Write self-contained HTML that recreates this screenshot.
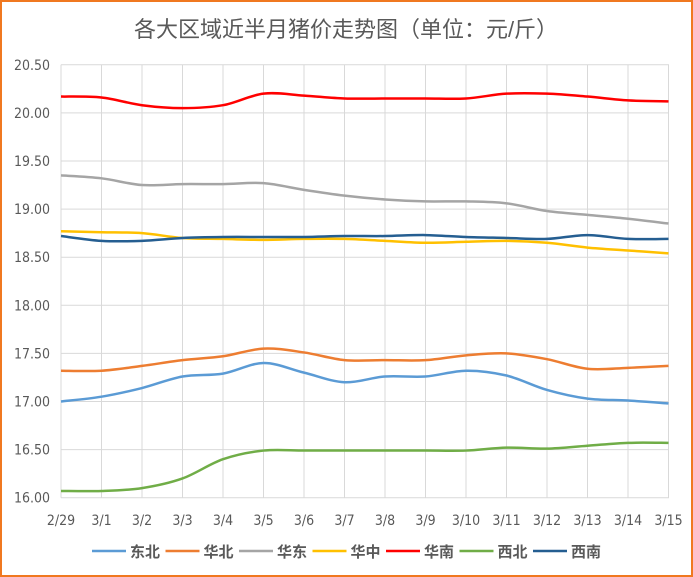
<!DOCTYPE html>
<html><head><meta charset="utf-8"><style>
body{margin:0;background:#fff}
#c{position:relative;width:693px;height:577px;box-sizing:border-box;border:2px solid #f07820;background:#fff;font-family:"Liberation Sans","Noto Sans CJK SC",sans-serif}
</style></head><body><div id="c">
<svg id="s" width="693" height="577" style="position:absolute;left:-2px;top:-2px" xmlns="http://www.w3.org/2000/svg">
<text x="346" y="37" text-anchor="middle" font-size="22" fill="#595959" font-family="Liberation Sans,Noto Sans CJK SC,sans-serif">各大区域近半月猪价走势图（单位：元/斤）</text>
<g id="g"></g>
</svg></div>
<script>
var g=document.getElementById('g'),h='';
function Y(v){return 64.8+(20.5-v)*96.2}
function X(i){return 61+i*40.5}
for(var k=0;k<10;k++){var v=20.5-k*0.5,y=Y(v);h+='<line x1="61" x2="669" y1="'+y+'" y2="'+y+'" stroke="#d9d9d9"/>';
h+='<text x="50" y="'+(y+5)+'" text-anchor="end" font-size="14" fill="#595959" font-family="DejaVu Sans Condensed,Liberation Sans Narrow,sans-serif" textLength="36" lengthAdjust="spacingAndGlyphs">'+v.toFixed(2)+'</text>';}
var lb=['2/29','3/1','3/2','3/3','3/4','3/5','3/6','3/7','3/8','3/9','3/10','3/11','3/12','3/13','3/14','3/15'];
for(var i=0;i<16;i++){var x=X(i);h+='<line x1="'+x+'" x2="'+x+'" y1="'+Y(20.5)+'" y2="'+Y(16)+'" stroke="#d9d9d9"/>';
h+='<text x="'+x+'" y="525" text-anchor="middle" font-size="14" fill="#595959" font-family="DejaVu Sans Condensed,Liberation Sans Narrow,sans-serif">'+lb[i]+'</text>';}
var S=[
['东北','#5b9bd5',[17.00,17.05,17.14,17.26,17.29,17.40,17.30,17.20,17.26,17.26,17.32,17.27,17.12,17.03,17.01,16.98]],
['华北','#ed7d31',[17.32,17.32,17.37,17.43,17.47,17.55,17.51,17.43,17.43,17.43,17.48,17.50,17.44,17.34,17.35,17.37]],
['华东','#a5a5a5',[19.35,19.32,19.25,19.26,19.26,19.27,19.20,19.14,19.10,19.08,19.08,19.06,18.98,18.94,18.90,18.85]],
['华中','#ffc000',[18.77,18.76,18.75,18.70,18.69,18.68,18.69,18.69,18.67,18.65,18.66,18.67,18.65,18.60,18.57,18.54]],
['华南','#ff0000',[20.17,20.16,20.08,20.05,20.08,20.20,20.18,20.15,20.15,20.15,20.15,20.20,20.20,20.17,20.13,20.12]],
['西北','#70ad47',[16.07,16.07,16.10,16.20,16.40,16.49,16.49,16.49,16.49,16.49,16.49,16.52,16.51,16.54,16.57,16.57]],
['西南','#255e91',[18.72,18.67,18.67,18.70,18.71,18.71,18.71,18.72,18.72,18.73,18.71,18.70,18.69,18.73,18.69,18.69]]];
S.forEach(function(s,j){var p=s[2].map(function(v,i){return [X(i),Y(v)]});var d='M'+p[0];
for(var i=0;i<15;i++){var a=p[i-1]||p[i],b=p[i],c=p[i+1],e=p[i+2]||c;
d+=' C'+(b[0]+(c[0]-a[0])/6)+','+(b[1]+(c[1]-a[1])/6)+' '+(c[0]-(e[0]-b[0])/6)+','+(c[1]-(e[1]-b[1])/6)+' '+c;}
h+='<path d="'+d+'" fill="none" stroke="'+s[1]+'" stroke-width="2.5"/>';
var lx=92+j*73.5;h+='<line x1="'+lx+'" x2="'+(lx+34)+'" y1="551" y2="551" stroke="'+s[1]+'" stroke-width="2.5"/>';
h+='<text x="'+(lx+38)+'" y="557" font-size="15" font-weight="bold" fill="#595959" font-family="Liberation Sans,Noto Sans CJK SC,sans-serif">'+s[0]+'</text>';});
g.innerHTML=h;
</script></body></html>
